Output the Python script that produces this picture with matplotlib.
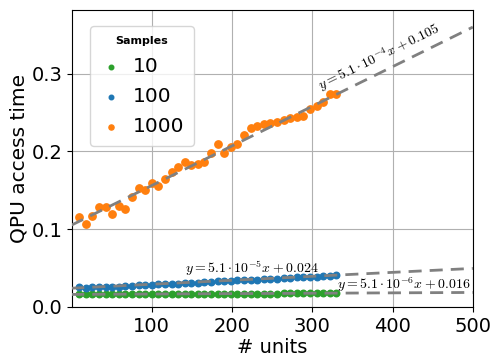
import numpy as np
import matplotlib
matplotlib.use("Agg")
import matplotlib.pyplot as plt

plt.rcParams['mathtext.fontset'] = 'cm'

# unita' misurate (40 punti da 10 a 330)
units = np.linspace(10, 330, 40)

time_10 = [0.016, 0.016, 0.016, 0.016, 0.016, 0.016, 0.016, 0.016, 0.016, 0.016,
           0.016, 0.017, 0.017, 0.017, 0.017, 0.017, 0.017, 0.017, 0.017, 0.017,
           0.017, 0.017, 0.017, 0.017, 0.017, 0.017, 0.017, 0.017, 0.017, 0.017,
           0.017, 0.018, 0.018, 0.018, 0.018, 0.018, 0.018, 0.018, 0.018, 0.018]

time_100 = [0.025, 0.024, 0.025, 0.026, 0.026, 0.026, 0.026, 0.027, 0.027, 0.028,
            0.028, 0.028, 0.029, 0.029, 0.030, 0.030, 0.031, 0.031, 0.031, 0.032,
            0.032, 0.033, 0.033, 0.033, 0.034, 0.034, 0.035, 0.035, 0.036, 0.036,
            0.036, 0.037, 0.037, 0.038, 0.038, 0.039, 0.039, 0.040, 0.040, 0.041]

time_1000 = [0.115, 0.106, 0.117, 0.128, 0.128, 0.120, 0.130, 0.126, 0.142, 0.153,
             0.151, 0.159, 0.156, 0.165, 0.173, 0.180, 0.187, 0.183, 0.184, 0.186,
             0.198, 0.210, 0.198, 0.206, 0.210, 0.221, 0.230, 0.233, 0.235, 0.237,
             0.238, 0.240, 0.243, 0.244, 0.245, 0.254, 0.258, 0.263, 0.274, 0.274]

# fit lineari (pendenza, intercetta)
fit_10 = (5.1e-6, 0.016)
fit_100 = (5.1e-5, 0.024)
fit_1000 = (5.1e-4, 0.105)

fig = plt.figure(figsize=(4.9, 3.56), dpi=100)
ax = fig.add_axes([0.147, 0.138, 0.818, 0.834])

ax.scatter(units, time_10, s=22, color='C2', label='10', zorder=2)
ax.scatter(units, time_100, s=22, color='C0', label='100', zorder=2)
ax.scatter(units, time_1000, s=28, color='C1', label='1000', zorder=2)

xs = np.array([0, 500])
for m, q in (fit_10, fit_100, fit_1000):
    ax.plot(xs, m * xs + q, color='gray', lw=2, dashes=(4.7, 2.9), zorder=3)

ax.text(311, 0.279, r'$y = 5.1 \cdot 10^{-4} x + 0.105$', fontsize=10,
        rotation=26, rotation_mode='anchor', ha='left', va='baseline')
ax.text(142, 0.043, r'$y = 5.1 \cdot 10^{-5} x + 0.024$', fontsize=10,
        ha='left', va='baseline')
ax.text(331, 0.0235, r'$y = 5.1 \cdot 10^{-6} x + 0.016$', fontsize=10,
        ha='left', va='baseline')

ax.set_xlim(1, 500)
ax.set_ylim(0, 0.382)
ax.set_xticks([100, 200, 300, 400, 500])
ax.set_yticks([0.0, 0.1, 0.2, 0.3])
ax.tick_params(labelsize=14)
ax.set_xlabel('# units', fontsize=14, labelpad=2)
ax.set_ylabel('QPU access time', fontsize=14.5, labelpad=2)
ax.grid(True, color='#b0b0b0', lw=0.8)
ax.set_axisbelow(True)

leg = ax.legend(title='Samples', fontsize=14.5, loc='upper left',
                bbox_to_anchor=(0.02, 0.98), markerscale=0.7,
                handlelength=1.1, handletextpad=0.5, borderpad=0.5,
                labelspacing=0.55)
leg.get_title().set_fontsize(8)
leg.get_title().set_fontweight('bold')

fig.savefig('out.png', dpi=100)
